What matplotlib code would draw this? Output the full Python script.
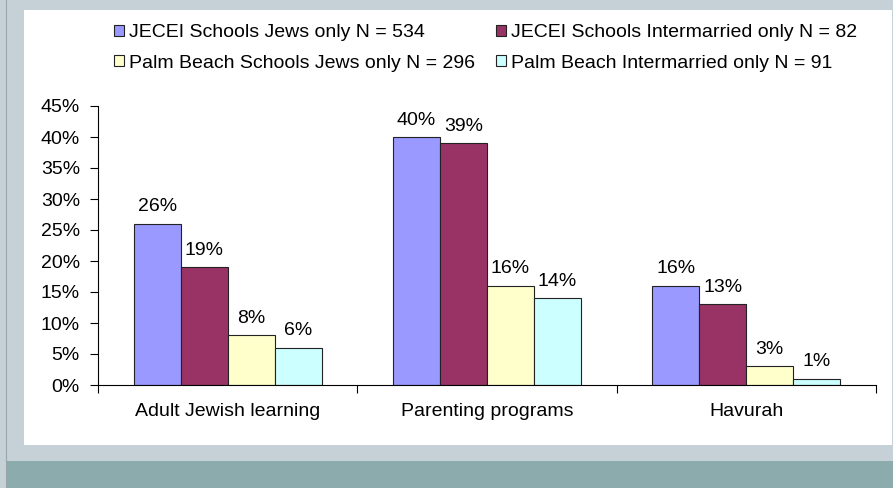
#!/usr/bin/env python3
"""Participation in adult programs: JECEI vs Palm Beach schools."""

import matplotlib
matplotlib.use("Agg")
import matplotlib.pyplot as plt
import numpy as np
from matplotlib.patches import Rectangle
from matplotlib.ticker import FuncFormatter, FixedLocator

categories = ["Adult Jewish learning", "Parenting programs", "Havurah"]
series_names = [
    "JECEI Schools Jews only N = 534",
    "JECEI Schools Intermarried only N = 82",
    "Palm Beach Schools Jews only N = 296",
    "Palm Beach Intermarried only N = 91",
]
jecei_jews = [26, 40, 16]
jecei_inter = [19, 39, 13]
palm_jews = [8, 16, 3]
palm_inter = [6, 14, 1]
colors = ["#9999FF", "#993366", "#FFFFCC", "#CCFFFF"]

FS = 14

plt.rcParams["font.family"] = ["Liberation Sans", "DejaVu Sans"]

fig = plt.figure(figsize=(8.93, 4.88), dpi=100)
fig.patch.set_facecolor("#c5d1d7")

# slide-like background: white panel + darker bottom band
fig.patches.append(Rectangle((24 / 893, 43 / 488), 868 / 893, 435 / 488,
                             transform=fig.transFigure, facecolor="white",
                             edgecolor="none", zorder=-5))
fig.patches.append(Rectangle((6 / 893, 0), 887 / 893, 27 / 488,
                             transform=fig.transFigure, facecolor="#8cabad",
                             edgecolor="none", zorder=-5))
fig.lines.append(plt.Line2D([5.5 / 893, 5.5 / 893], [0, 1], transform=fig.transFigure,
                            color="#9aa6ab", lw=0.8, zorder=-4))

ax = fig.add_axes([98 / 893, 103 / 488, 778 / 893, 279 / 488])
ax.set_facecolor("none")

x = np.arange(len(categories))
width = 0.181
all_series = [jecei_jews, jecei_inter, palm_jews, palm_inter]
handles = []
for i, (vals, col) in enumerate(zip(all_series, colors)):
    pos = x + (i - 1.5) * width
    fracs = np.array(vals) / 100
    bars = ax.bar(pos, fracs, width, color=col, edgecolor="#222222", linewidth=0.8,
                  label=series_names[i])
    handles.append(bars)
    for p, v in zip(pos, vals):
        ax.annotate(f"{v}%", (p, v / 100), xytext=(0, 6), textcoords="offset points",
                    ha="center", va="bottom", fontsize=FS)

ax.set_xlim(-0.5, 2.5)
ax.set_ylim(0, 0.45)
ax.set_yticks(np.arange(0, 0.451, 0.05))
ax.yaxis.set_major_formatter(FuncFormatter(lambda v, _: f"{v * 100:.0f}%"))
ax.tick_params(axis="y", direction="out", length=6, width=0.8, pad=7, labelsize=FS)

ax.xaxis.set_major_locator(FixedLocator([-0.5, 0.5, 1.5, 2.5]))
ax.xaxis.set_minor_locator(FixedLocator(x))
ax.set_xticklabels([], minor=False)
ax.set_xticklabels(categories, minor=True)
ax.tick_params(axis="x", which="major", direction="out", length=6, width=0.8)
ax.tick_params(axis="x", which="minor", length=0, pad=13, labelsize=FS)

for side in ["top", "right"]:
    ax.spines[side].set_visible(False)
for side in ["left", "bottom"]:
    ax.spines[side].set_linewidth(0.8)

# legend fills row by row in the original: reorder for ncol=2
order = [0, 2, 1, 3]
fig.legend([handles[k] for k in order], [series_names[k] for k in order],
           loc="upper left", bbox_to_anchor=(114 / 893, 1 - 24 / 488), ncol=2,
           frameon=False, fontsize=FS, handlelength=0.5, handleheight=0.5,
           handletextpad=0.25, columnspacing=1.1, labelspacing=0.7,
           borderaxespad=0, borderpad=0)

fig.savefig("out.png", dpi=100, facecolor=fig.get_facecolor())
